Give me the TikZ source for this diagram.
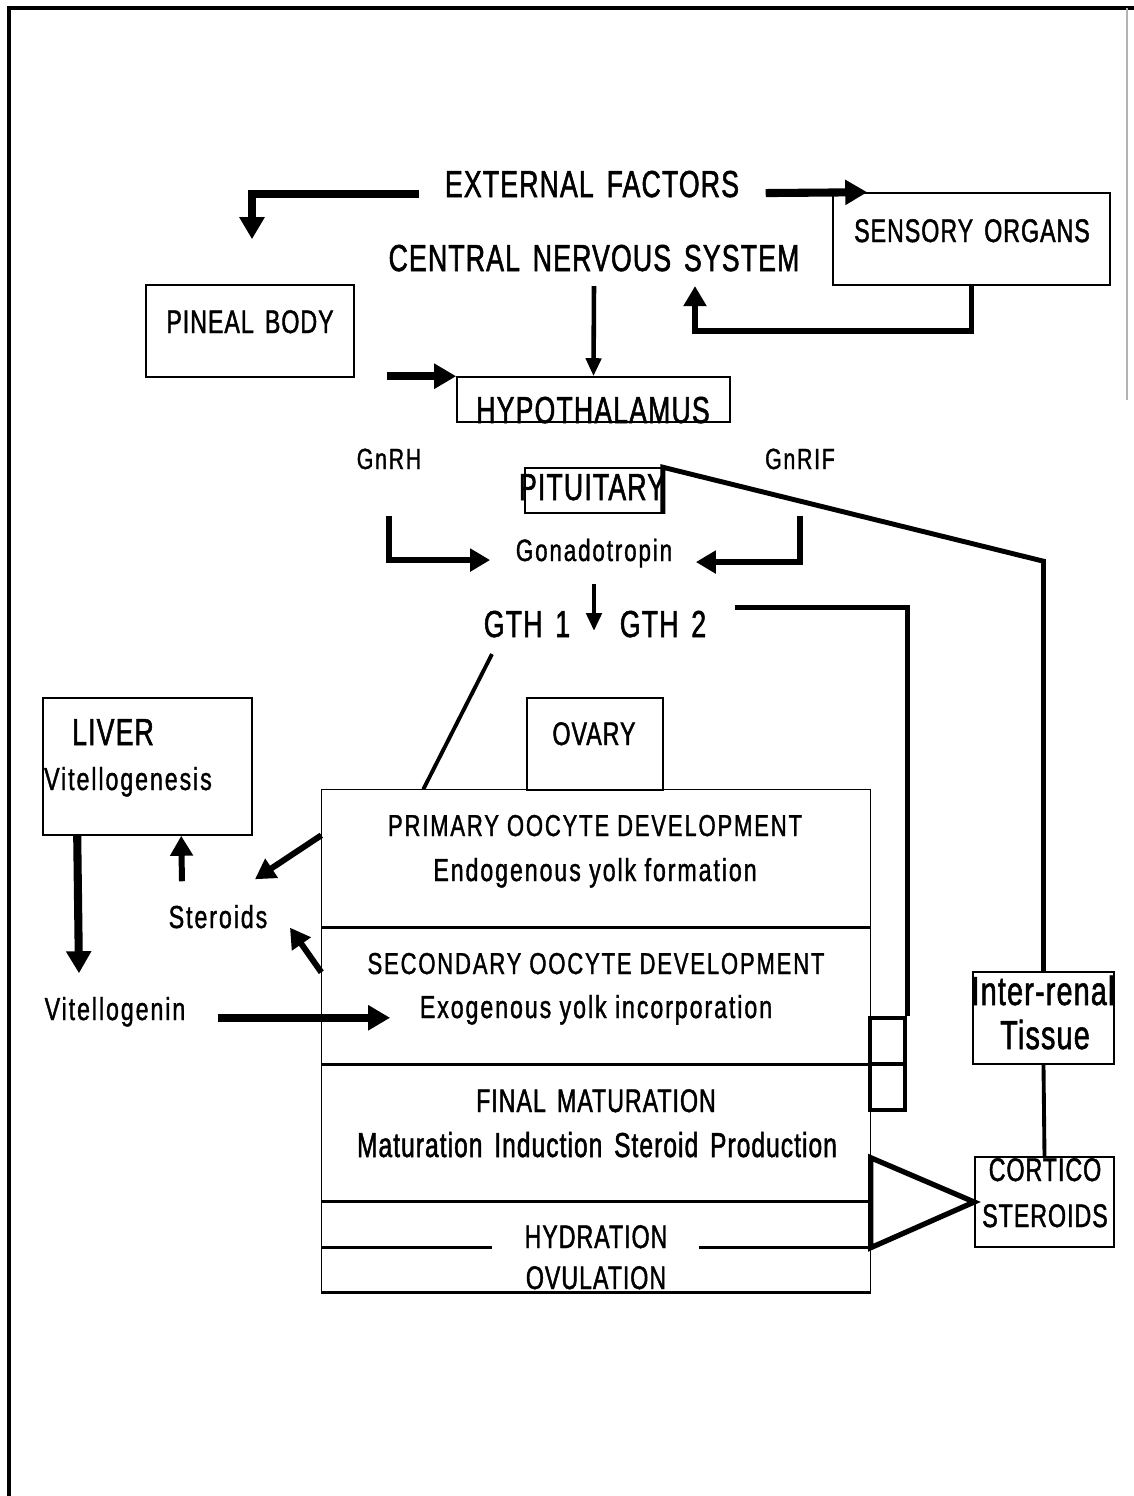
\documentclass[tikz,border=0pt]{standalone}
\usepackage{fontspec}
\newfontfamily\headfont[FakeStretch=0.71, LetterSpace=3, WordSpace=1.5, FakeBold=1.4]{Liberation Sans}
\newfontfamily\bodyfont[FakeStretch=0.73, LetterSpace=6, FakeBold=1.2]{Liberation Sans}
\usetikzlibrary{calc}
\usetikzlibrary{arrows.meta}

\tikzset{
  box/.style={draw, line width=0.45pt, inner sep=0pt},
  zone/.style={inner sep=0pt, minimum width=54.8mm},
  big/.style={font=\headfont\fontsize{10.7}{13}\selectfont, inner sep=0pt, anchor=base},
  mid/.style={font=\headfont\fontsize{9.3}{11}\selectfont, inner sep=0pt, anchor=base},
  caps/.style={font=\bodyfont\fontsize{8.6}{10}\selectfont, inner sep=0pt, anchor=base},
  small/.style={font=\bodyfont\fontsize{9.05}{11}\selectfont, inner sep=0pt, anchor=base},
  hormone/.style={font=\bodyfont\fontsize{8.3}{10}\selectfont, inner sep=0pt, anchor=base},
  fat/.style={line width=2.3pt, -{Triangle[length=2.2mm,width=2.4mm]}},
  pipe/.style={line width=1.7pt, -{Triangle[length=2mm,width=2.2mm]}},
  slim/.style={line width=1.3pt, -{Triangle[length=1.8mm,width=1.5mm]}},
  wire/.style={line width=1.4pt},
}

\begin{document}
\begin{tikzpicture}[x=0.1mm, y=-0.1mm]
  \useasboundingbox (0,0) rectangle (1134,1496);

  % Page frame
  \draw[line width=1.3pt] (9,1496) -- (9,8) -- (1134,8);
  \draw[gray!60, line width=0.4pt] (1127,8) -- (1127,400);

  % Brain level
  \node[big] (ext) at (592,197) {EXTERNAL FACTORS};
  \node[big] (cns) at (594,271) {CENTRAL NERVOUS SYSTEM};
  \node[box, minimum width=27.7mm, minimum height=9.2mm] (sensory) at (971.5,239) {};
  \node[mid] (senslab) at (972,242) {SENSORY ORGANS};
  \node[box, minimum width=20.8mm, minimum height=9.2mm] (pineal) at (250,331) {};
  \node[mid] (pinlab) at (250,333) {PINEAL BODY};
  \node[box, minimum width=27.3mm, minimum height=4.5mm] (hypo) at (593.5,399.5) {};
  \node[big] (hyplab) at (593,423) {HYPOTHALAMUS};

  % Pituitary level
  \node[hormone] (gnrh) at (389,469) {GnRH};
  \node[hormone] (gnrif) at (800,469) {GnRIF};
  \node[box, minimum width=13.7mm, minimum height=4.5mm] (pit) at (593.5,490.5) {};
  \node[big] (pitlab) at (592,500) {PITUITARY};
  \node[hormone, font=\bodyfont\fontsize{8.75}{10}\selectfont] (gon) at (594,561) {Gonadotropin};
  \node[big] (gth1) at (527,637) {GTH 1};
  \node[big] (gth2) at (663,637) {GTH 2};

  % Liver
  \node[box, minimum width=20.9mm, minimum height=13.7mm] (liver) at (147.5,766.5) {};
  \node[big] (livlab) at (113,745) {LIVER};
  \node[small] (vgs) at (128,790) {Vitellogenesis};
  \node[small] (ster) at (218,928) {Steroids};
  \node[small] (vitg) at (115,1020) {Vitellogenin};

  % Ovary and its stages
  \node[box, minimum width=13.6mm, minimum height=9.2mm] (ovary) at (595,744) {};
  \node[mid] (ovlab) at (594,745) {OVARY};
  \node[zone, minimum height=13.7mm] (prim) at (596,858.5) {};
  \node[zone, minimum height=13.7mm] (sec) at (596,995.5) {};
  \node[zone, minimum height=13.7mm] (fin) at (596,1132.5) {};
  \node[zone, minimum height=4.6mm] (hyd) at (596,1224) {};
  \node[zone, minimum height=4.5mm] (ovu) at (596,1269.5) {};
  \draw[line width=0.45pt] (prim.north west) rectangle (ovu.south east);
  \draw[line width=0.8pt] (prim.south west) -- (prim.south east)
    (sec.south west) -- (sec.south east)
    (fin.south west) -- (fin.south east)
    (ovu.south west) -- (ovu.south east);
  \draw[line width=0.8pt] (hyd.south west) -- ++(171,0) (hyd.south east) -- ++(-172,0);

  \node[caps] (primlab) at (595,836) {PRIMARY OOCYTE DEVELOPMENT};
  \node[small] (endo) at (595,881) {Endogenous yolk formation};
  \node[caps] (seclab) at (596,974) {SECONDARY OOCYTE DEVELOPMENT};
  \node[small] (exo) at (596,1018) {Exogenous yolk incorporation};
  \node[mid] (finlab) at (596,1112) {FINAL MATURATION};
  \node[big, font=\headfont\fontsize{9.85}{12}\selectfont] (mis) at (597,1157) {Maturation Induction Steroid Production};
  \node[mid] (hydlab) at (596,1248) {HYDRATION};
  \node[mid] (ovulab) at (596,1289) {OVULATION};

  % Inter-renal side
  \node[box, minimum width=14.1mm, minimum height=9.2mm] (renal) at (1043.5,1018) {};
  \node[big, font=\headfont\fontsize{11.5}{13}\selectfont] (renlab) at (1043,1005) {Inter-renal};
  \node[big, font=\headfont\fontsize{11.5}{13}\selectfont] (tislab) at (1045,1049) {Tissue};
  \node[box, minimum width=13.9mm, minimum height=9mm] (cortico) at (1044.5,1202) {};
  \node[mid] (corlab) at (1045,1181) {CORTICO};
  \node[mid] (strlab) at (1045,1227) {STEROIDS};
  \node[draw, line width=1.4pt, inner sep=0pt, minimum width=3.5mm, minimum height=9.2mm] (gate) at (887.5,1064) {};
  \draw[wire] (gate.west) -- (gate.east);

  % Arrows from the outside world
  \draw[fat] ($(ext.west)+(-25,10)$) -| ($(pineal.north)+(2,-45)$);
  \draw[fat] ($(ext.east)+(26,9)$) -- ($(sensory.north west)+(35,0)$);
  \draw[pipe] (sensory.south) |- ($(cns.south)+(101,59)$) -- ($(cns.south)+(101,14)$);
  \draw[slim] ($(cns.south)+(0,14)$) -- (hypo.north);
  \draw[fat] ($(hypo.north west)+(-69,0)$) -- (hypo.north west);

  % Releasing factors
  \draw[pipe] ($(gnrh.south)+(0,46)$) |- ($(gon.west)+(-25,7)$);
  \draw[pipe] ($(gnrif.south)+(0,46)$) |- ($(gon.east)+(23,9)$);
  \draw[slim] ($(gon.south)+(0,16)$) -- ($(gon.south)+(0,63)$);

  % Gonadotropins to the ovary
  \draw[line width=1.1pt] ($(gth1.south)+(-35,16)$) -- ($(prim.north west)+(102,0)$);
  \draw[wire] ($(gth2.east)+(28,-17)$) -| (gate.north east);

  % Pituitary to inter-renal tissue
  \draw[wire] (pit.south east) -- (pit.north east) -- ($(renal.north)+(0,-410)$) -- (renal.north);
  \draw[line width=1.1pt] (renal.south) -- (cortico.north);
  \draw[line width=1.5pt, line join=miter] ($(fin.south east)+(0,-44)$) -- (cortico.west) -- (hyd.south east) -- cycle;

  % Liver loop
  \draw[fat] ($(liver.south west)+(35,0)$) -- ($(vitg.north west)+(35,-23)$);
  \draw[pipe] ($(ster.north)+(-36,-23)$) -- ($(liver.south west)+(139,0)$);
  \draw[pipe] ($(prim.north west)+(0,46)$) -- ($(ster.north east)+(-13,-25)$);
  \draw[pipe] ($(sec.north west)+(0,46)$) -- ($(ster.east)+(22,11)$);
  \draw[fat] ($(vitg.east)+(32,6)$) -- ($(exo.west)+(-29,8)$);
\end{tikzpicture}
\end{document}
